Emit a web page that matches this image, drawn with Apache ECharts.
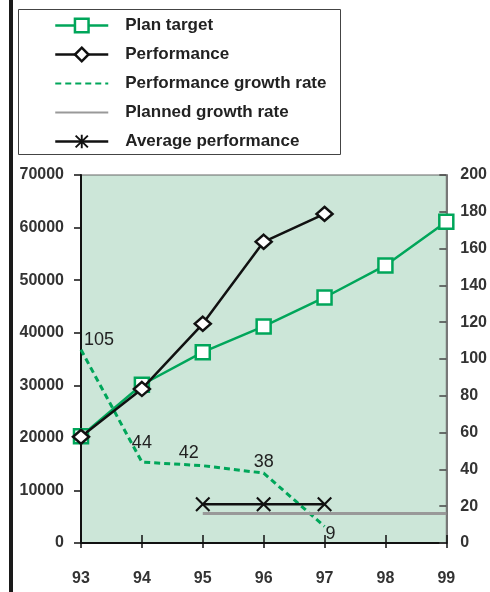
<!DOCTYPE html>
<html>
<head>
<meta charset="utf-8">
<script src="https://cdn.jsdelivr.net/npm/echarts@6/dist/echarts.min.js"></script>
<style>
  html, body { margin: 0; padding: 0; background: #fff; }
  #chart { width: 490px; height: 592px; }
</style>
</head>
<body>
<div id="chart"></div>
<script>
// Years on the horizontal axis
const years = ['93', '94', '95', '96', '97', '98', '99'];

// Left axis (absolute values)
const planTarget = [20300, 30100, 36300, 41200, 46700, 52800, 61100];
const performance = [20200, 29300, 41700, 57300, 62600, null, null];

// Right axis (rates)
const performanceGrowth = [105, 44, 42, 38, 9, null, null];
const plannedGrowth = [null, null, 16, 16, 16, 16, 16];
const averagePerformance = [null, null, 21, 21, 21, null, null];

// Tick values
const leftTicks = [0, 10000, 20000, 30000, 40000, 50000, 60000, 70000];
const rightTicks = [0, 20, 40, 60, 80, 100, 120, 140, 160, 180, 200];

const GREEN = '#00a65a';
const BG = '#cce6d8';
const FONT = '"Liberation Sans", Arial, sans-serif';

// Offsets for the growth-rate value labels
const growthLabelOffsets = [[18, -10], [0, -19], [-14, -13], [0, -11], [6, 8]];

const xCross = 'path://M0,1L1,0L5,4L9,0L10,1L6,5L10,9L9,10L5,6L1,10L0,9L4,5Z';
const asterisk = 'path://M0,1.2L1,0.2L5,4.2L9,0.2L10,1.2L6,5.2L10,9.2L9,10.2L5,6.2L1,10.2L0,9.2L4,5.2Z M4.3,0L5.7,0L5.7,10.4L4.3,10.4Z';

const chart = echarts.init(document.getElementById('chart'), null, { renderer: 'canvas' });

const axisLabelStyle = { color: '#333', fontFamily: FONT, fontWeight: 'bold', fontSize: 16 };

chart.setOption({
  animation: false,
  backgroundColor: '#fff',
  graphic: [
    { type: 'rect', left: 9, top: 0, shape: { width: 4, height: 592 }, style: { fill: '#1a1a1a' }, z: 10 },
    { type: 'rect', left: 18, top: 9, shape: { width: 322, height: 145 },
      style: { fill: '#fff', stroke: '#444', lineWidth: 1 }, z: -1 }
  ],
  legend: {
    orient: 'vertical',
    left: 54,
    top: 17,
    padding: 0,
    itemWidth: 53,
    itemHeight: 17,
    itemGap: 12,
    selectedMode: false,
    textStyle: { color: '#222', fontFamily: FONT, fontWeight: 'bold', fontSize: 17, padding: [0, 0, 0, 12] },
    data: [
      { name: 'Plan target', itemStyle: { color: '#fff', borderColor: GREEN, borderWidth: 2.5 }, lineStyle: { width: 2.5 } },
      { name: 'Performance', itemStyle: { color: '#fff', borderColor: '#111', borderWidth: 2.5 }, lineStyle: { width: 2.5 } },
      { name: 'Performance growth rate', itemStyle: { opacity: 0 } },
      { name: 'Planned growth rate', itemStyle: { opacity: 0 } },
      { name: 'Average performance', itemStyle: { color: '#111', borderWidth: 0 }, lineStyle: { width: 2.5 } }
    ]
  },
  grid: {
    left: 81, right: 41, top: 175, bottom: 49,
    show: true, backgroundColor: BG, borderColor: '#666', borderWidth: 1
  },
  xAxis: [
    {
      type: 'category', data: years, boundaryGap: false,
      axisLine: { lineStyle: { color: '#111', width: 2 } },
      axisTick: { show: true, length: 5, lineStyle: { color: '#111', width: 1.5 } },
      axisLabel: Object.assign({ margin: 28 }, axisLabelStyle),
      splitLine: { show: false }
    },
    {
      type: 'category', data: years, boundaryGap: false, position: 'bottom',
      axisLine: { show: false },
      axisTick: { show: true, inside: true, length: 8, lineStyle: { color: '#111', width: 1.5 } },
      axisLabel: { show: false },
      splitLine: { show: false }
    }
  ],
  yAxis: [
    {
      type: 'value', min: leftTicks[0], max: leftTicks[leftTicks.length - 1], interval: leftTicks[1] - leftTicks[0],
      position: 'left',
      axisLine: { show: true, lineStyle: { color: '#111', width: 2 } },
      axisTick: { show: true, length: 7, lineStyle: { color: '#111', width: 1.5 } },
      axisLabel: Object.assign({ margin: 17, formatter: v => String(v) }, axisLabelStyle),
      splitLine: { show: false }
    },
    {
      type: 'value', min: rightTicks[0], max: rightTicks[rightTicks.length - 1], interval: rightTicks[1] - rightTicks[0],
      position: 'right',
      axisLine: { show: true, lineStyle: { color: '#777', width: 2 } },
      axisTick: { show: true, inside: true, length: 7, lineStyle: { color: '#444', width: 1.5 } },
      axisLabel: Object.assign({ margin: 14, formatter: v => String(v) }, axisLabelStyle),
      splitLine: { show: false }
    }
  ],
  series: [
    {
      name: 'Plan target', type: 'line', yAxisIndex: 0, data: planTarget,
      symbol: 'rect', symbolSize: 14,
      lineStyle: { color: GREEN, width: 2.5 },
      itemStyle: { color: '#fff', borderColor: GREEN, borderWidth: 2.5 },
      z: 3
    },
    {
      name: 'Performance', type: 'line', yAxisIndex: 0, data: performance,
      symbol: 'diamond', symbolSize: [16, 14],
      lineStyle: { color: '#111', width: 2.5 },
      itemStyle: { color: '#fff', borderColor: '#111', borderWidth: 2.5 },
      z: 4
    },
    {
      name: 'Performance growth rate', type: 'line', yAxisIndex: 1,
      data: performanceGrowth.map((v, i) => ({
        value: v,
        label: { offset: growthLabelOffsets[i] || [0, 0] }
      })),
      symbol: 'circle', symbolSize: 1,
      lineStyle: { color: GREEN, width: 3, type: [6, 4] },
      itemStyle: { color: 'rgba(0,0,0,0)' },
      label: {
        show: true, position: 'inside', color: '#222',
        fontFamily: FONT, fontSize: 18, fontWeight: 'normal'
      },
      z: 2
    },
    {
      name: 'Planned growth rate', type: 'line', yAxisIndex: 1, data: plannedGrowth,
      symbol: 'circle', symbolSize: 1,
      lineStyle: { color: '#999', width: 3 },
      itemStyle: { color: 'rgba(0,0,0,0)' },
      z: 2
    },
    {
      // legend key for the average line
      name: 'Average performance', type: 'line', yAxisIndex: 1, data: [],
      symbol: asterisk,
      lineStyle: { color: '#111', width: 2.5 },
      itemStyle: { color: '#111' }
    },
    {
      name: 'Average performance', type: 'line', yAxisIndex: 1, data: averagePerformance,
      symbol: xCross, symbolSize: 15,
      lineStyle: { color: '#111', width: 2.5 },
      itemStyle: { color: '#111' },
      z: 3
    }
  ]
});
</script>
</body>
</html>
